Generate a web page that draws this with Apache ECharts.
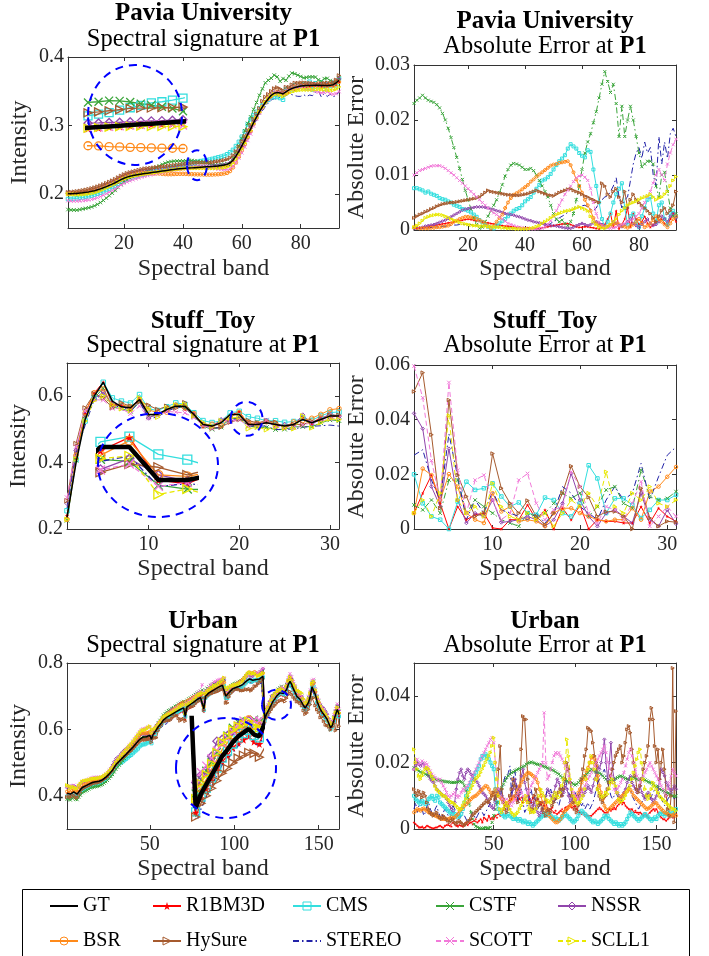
<!DOCTYPE html>
<html><head><meta charset="utf-8">
<script src="https://cdn.jsdelivr.net/npm/echarts@6/dist/echarts.min.js"></script>
<style>html,body{margin:0;padding:0;background:#fff}#c{width:709px;height:956px}</style>
</head><body><div id="c"></div>
<script>
// ---------------- DATA ----------------
const methods = ['GT','R1BM3D','CMS','CSTF','NSSR','BSR','HySure','STEREO','SCOTT','SCLL1'];

// Pavia University (values x1e-4; errors are signed deviations from GT, x1e-4)
const pavia_GT = [2000,2001,2003,2006,2010,2015,2021,2028,2036,2046, 2058,2072,2088,2105,2123,2142,2162,2185,2208,2228, 2244,2256,2266,2275,2283,2290,2296,2302,2308,2314, 2320,2326,2332,2338,2344,2350,2356,2361,2366,2370, 2373,2376,2379,2382,2385,2388,2391,2394,2397,2400, 2404,2408,2413,2420,2430,2450,2490,2550,2620,2700, 2780,2870,2950,3040,3120,3200,3270,3335,3390,3440, 3470,3480,3475,3460,3490,3520,3540,3555,3565,3575, 3580,3582,3584,3585,3586,3586,3585,3584,3583,3585, 3595,3620,3660];
const pavia_R1BM3D = [-3,-3,-4,-4,-5,-6,-7,-8,-9,-10, -11,-12,-13,-14,-15,-16,-17,-18,-19,-20, -19,-18,-17,-16,-15,-14,-13,-12,-11,-10, -9,-8,-7,-7,-6,-6,-5,-5,-4,-4, -4,-3,-3,-3,-3,-4,-5,-6,-7,-8, -9,-10,-11,-11,-12,-10,-8,-6,-5,-5, -6,-6,-5,-4,-3,-2,-5,-10,-20,-30, -5,-35,-2,-10,-20,-40,-5,-30,-20,-10, -15,-25,-12,-5,-10,-15,-18,-20,-12,-8, -20,-30,-15];
const pavia_CMS = [-76,-76,-74,-72,-68,-70,-66,-64,-62,-58, -56,-55,-52,-50,-46,-44,-42,-38,-37,-35, -32,-28,-24,-18,-14,-10,-6,-4,3,8, 12,16,20,25,30,35,38,40,45,52, 56,60,68,75,82,90,92,96,102,110, 118,125,130,136,148,156,152,148,140,135, 132,145,142,110,80,50,20,5,-15,-30, -50,-65,-75,-85,40,10,-25,30,-15,5, 25,-40,55,-60,30,-15,45,-50,20,-10, 30,-35,25];
const pavia_CSTF = [-230,-236,-240,-245,-240,-236,-234,-232,-228,-222, -212,-200,-185,-168,-150,-132,-112,-92,-72,-55, -38,-22,-10,3,5,15,25,35,45,55, 68,82,98,110,118,121,120,118,114,110, 110,112,108,100,90,80,70,60,45,30, 20,15,18,12,8,15,30,55,80,110, 140,160,175,195,215,240,265,288,270,250, 265,230,170,225,170,200,225,200,170,140, 115,120,125,125,120,80,60,100,105,70, 40,25,30];
const pavia_NSSR = [3,3,4,5,7,8,9,10,12,14, 16,18,21,24,27,30,33,36,38,39, 40,41,42,42,42,41,40,38,37,35, 34,32,30,29,28,27,25,24,22,20, 18,17,15,14,13,12,10,9,8,8, 7,6,5,4,3,3,5,8,10,12, 10,8,10,13,15,12,10,8,6,10, 15,12,8,6,10,15,20,12,8,5, 10,15,20,12,8,10,15,25,20,15, 25,30,22];
const pavia_BSR = [5,4,3,3,3,3,4,4,5,5, 6,7,8,11,15,17,20,22,24,24, 23,22,20,18,15,12,7,-3,-8,-15, -22,-28,-40,-50,-58,-64,-67,-70,-74,-78, -82,-88,-92,-97,-101,-105,-109,-113,-117,-119, -120,-122,-123,-124,-125,-118,-105,-92,-80,-68, -55,-45,-35,-22,-12,-8,-7,5,6,-8, -10,12,-10,8,-6,4,-7,10,-15,20, -12,5,-8,12,-18,25,-20,15,-10,5, -12,20,-25];
const pavia_HySure = [22,25,28,30,33,35,38,40,43,45, 47,48,49,50,50,51,52,53,54,55, 56,57,58,60,64,68,72,70,69,68, 67,66,65,64,64,63,63,63,64,65, 66,68,70,72,70,68,66,64,63,62, 65,68,70,72,74,75,72,70,68,65, 62,60,57,55,52,50,85,80,65,60, 70,75,60,50,70,40,55,65,55,50, 45,40,35,30,22,15,25,35,40,30, 35,45,70];
const pavia_STEREO = [-2,-2,-3,-3,-4,-4,-5,-5,-6,-6, -7,-7,-8,-8,-9,-9,-10,-10,-10,-10, -10,-9,-9,-8,-8,-7,-7,-6,-6,-5, -5,-5,-4,-4,-4,-3,-3,-3,-2,-2, -3,-2,-2,-2,-2,-3,-5,-8,-12,-15, -18,-22,-25,-28,-32,-35,-38,-40,-42,-44, -45,-42,-38,-35,-40,-50,-55,-60,-62,-70, -80,-95,-60,-40,-55,-60,-90,-120,-140,-150, -130,-160,-140,-150,-100,-80,-170,-120,-160,-130, -175,-185,-170];
const pavia_SCOTT = [-100,-104,-108,-110,-112,-114,-116,-117,-117,-117, -115,-112,-108,-104,-100,-95,-90,-85,-80,-75, -70,-65,-60,-55,-50,-45,-40,-35,-31,-28, -24,-20,-16,-12,-10,-8,-6,-5,-4,-3, -2,-2,-2,-2,-3,-3,-6,-10,-17,-25, -35,-45,-55,-65,-72,-80,-88,-95,-98,-100, -96,-90,-75,-50,-30,-15,-8,-5,-4,-3, -4,-5,-8,-10,-12,-15,-18,-20,-25,-30, -40,-50,-60,-70,-85,-100,-110,-100,-90,-120, -140,-155,-165];
const pavia_SCLL1 = [-5,-8,-12,-17,-22,-24,-26,-27,-28,-28, -27,-25,-23,-20,-18,-16,-14,-12,-11,-10, -9,-8,-8,-7,-7,-7,-6,-6,-5,-5, -5,-4,-4,-3,-3,-3,-2,-2,-2,-2, -2,-3,-4,-6,-8,-12,-15,-18,-22,-25, -28,-30,-32,-34,-35,-36,-38,-40,-42,-40, -38,-35,-25,-15,-10,-5,-4,-3,-6,-10, -15,-20,-28,-35,-40,-45,-48,-50,-52,-55, -58,-60,-62,-65,-60,-55,-58,-60,-65,-70, -80,-90,-97];

// Stuff_Toy (x1e-4)
const stuff_GT = [2350,4000,5300,6000,6420,5850,5680,5650,5900,5450,5450,5600,5700,5700,5450,5150,5100,5200,5450,5450,5150,5150,5200,5150,5100,5150,5300,5200,5300,5400,5400];
const stuff_R1BM3D = [58,131,197,94,0,-82,34,-52,58,-4,0,-34,34,-88,34,-70,0,76,-34,88,0,-34,28,-28,22,-22,82,-22,76,-46,28];
const stuff_CMS = [200,94,-46,-34,0,100,173,143,149,167,119,82,97,58,52,115,106,58,46,94,233,185,58,112,112,88,40,70,106,106,125];
const stuff_CSTF = [-88,70,106,-58,-179,-179,-58,-106,-82,-58,-34,-22,-10,-58,-46,-58,-94,-131,-112,-131,-46,-82,-143,-155,-94,-76,-215,-119,-106,-112,-137];
const stuff_NSSR = [423,367,155,-82,-294,-106,22,-58,-46,-106,24,-28,34,-46,-34,10,-34,94,-203,-106,46,-10,58,-70,46,-22,131,-34,10,70,-19];
const stuff_BSR = [-58,221,197,106,-201,-155,58,34,-22,131,64,-82,28,-34,28,-10,58,-76,-76,58,46,34,28,34,-34,76,-34,137,155,191,227];
const stuff_HySure = [503,572,345,76,-472,-197,119,46,-58,276,149,94,-58,104,-46,16,-58,-131,-230,-155,116,46,63,64,-48,0,-149,40,-10,28,25];
const stuff_STEREO = [270,290,-179,-106,-348,-191,34,-106,-58,-137,-70,-58,-46,-34,-58,-22,-58,-155,-131,-82,-58,-34,-106,-155,-106,-131,-240,-106,-191,-270,-300];
const stuff_SCOTT = [596,480,250,-106,-536,-215,-58,-179,-197,-106,-34,-58,-179,-203,-94,-34,-70,82,-209,-155,-58,-22,82,-70,-34,-94,-173,10,-46,-82,-46];
const stuff_SCLL1 = [-58,106,-46,-131,-415,-106,-58,-82,46,167,-82,46,34,58,-34,58,-10,58,-106,-82,-131,-82,-209,-82,-58,-131,106,-155,-94,-82,-106];

// Urban (GT x1e-3, signed errors x1e-4)
const urban_GT = [408,410,405,410,412,406,405,412,418,425, 428,430,432,435,438,440,441,442,443,444, 446,448,452,456,460,466,472,478,486,494, 500,505,510,515,520,525,530,536,540,546, 552,558,564,570,575,577,576,578,580,582, 570,585,592,600,608,614,620,628,632,636, 640,642,646,648,652,654,658,660,663,665, 640,668,672,675,678,682,686,690,693,696, 700,662,700,706,710,714,716,720,722,725, 728,730,733,736,700,698,712,718,722,725, 726,728,730,732,735,740,745,750,752,746, 748,752,750,748,752,756,760,630,645,655, 665,675,685,692,700,706,710,714,708,706, 720,735,745,735,722,712,700,695,690,685, 672,664,670,682,700,728,732,705,685,672, 660,652,645,638,630,618,605,612,628,645, 660,645];
const urban_R1BM3D = [-20,-15,-10,-5,-5,-8,-3,-5,-10,-8, -5,-3,-2,-5,-5,-8,-10,-6,-4,-10, -12,-15,-10,-8,-20,-15,-10,-8,-12,-10, -8,-15,-20,-12,-18,-20,-15,-25,-30,-20, -25,-30,-20,-35,-30,-25,-40,-30,-35,-30, -40,-35,-45,-40,-50,-60,-70,-80,-75,-85, -90,-100,-95,-85,-100,-90,-95,-80,-90,-85, -100,-90,-80,-95,-100,-85,-90,-80,-75,-80, -70,-85,-60,-55,-60,-65,-50,-55,-45,-50, -55,-60,-50,-65,-60,-70,-75,-65,-60,-70, -60,-55,-50,-45,-50,-40,-45,-40,-35,-40, -45,-50,-55,-60,-65,-60,-55,-50,-45,-50, -60,-55,-60,-65,-60,-70,-75,-80,-75,-80, -70,-65,-60,-55,-60,-50,-55,-50,-45,-50, -45,-40,-45,-40,-35,-50,-55,-60,-55,-60, -50,-40,-35,-30,-30,-25,-30,-35,-40,-35, -40,-45];
const urban_CMS = [-100,-90,-85,-80,-75,-85,-80,-75,-80,-90, -95,-100,-90,-85,-100,-95,-80,-75,-70,-65, -60,-55,-50,-45,-50,-45,-40,-35,-40,-45, -60,-80,-100,-120,-130,-140,-150,-160,-170,-180, -190,-210,-220,-215,-225,-220,-210,-200,-190,-180, -120,-80,-60,-50,-45,-40,-35,-40,-45,-40, -35,-30,-35,-30,-25,-30,-25,-20,-25,-20, -15,-20,-15,-10,-15,-20,-25,-30,-35,-40, -45,-40,-50,-45,-40,-35,-30,-35,-30,-25, -30,-35,-40,-45,-40,-35,-30,-25,-20,-25, -30,-40,-50,-55,-50,-45,-40,-35,-30,-25, -20,-25,-20,-15,-20,-25,-30,-40,-35,-40, -30,-25,-20,-15,-20,-15,-10,-15,-10,-15, -20,-30,-40,-50,-45,-40,-35,-30,-25,-30, -35,-40,-45,-40,-35,-30,-25,-30,-35,-30, -40,-45,-50,-45,-40,-45,-50,-45,-40,-50, -55,-60];
const urban_CSTF = [-185,-180,-178,-175,-172,-170,-168,-165,-163,-160, -158,-155,-153,-150,-148,-147,-146,-145,-144,-143, -142,-142,-141,-140,-140,-140,-141,-142,-143,-142, -140,-130,-115,-95,-75,-50,-30,-15,-8,-5, -3,-2,-2,-3,-4,-3,-2,5,20,40, 60,80,100,115,125,135,145,155,160,165, 170,172,175,178,180,182,185,188,190,195, 198,200,202,200,198,196,195,194,192,190, 188,186,184,182,180,178,176,172,168,165, 160,155,150,148,145,142,140,138,135,132, 135,140,145,150,155,160,165,170,175,180, 178,175,172,170,168,165,160,155,150,145, 142,145,148,150,152,155,158,160,158,155, 152,150,148,150,152,155,153,150,148,150, 152,150,148,145,142,140,138,135,130,128, 125,120,118,115,112,110,108,105,102,100, 98,100];
const urban_NSSR = [180,190,200,195,190,200,195,185,180,160, 150,145,140,130,120,115,110,105,100,100, 90,80,70,60,55,80,120,150,170,180, 160,150,170,180,175,165,160,150,145,140, 130,120,110,105,100,90,80,70,65,60, 80,100,120,110,100,90,80,70,60,80, 100,120,150,130,100,120,160,180,140,120, 100,90,80,70,80,60,50,40,50,60, 80,100,120,110,100,90,110,130,150,140, 120,100,110,130,120,100,80,90,100,80, 90,100,110,120,100,110,120,130,120,110, 130,150,170,190,180,200,230,270,200,150, 200,260,180,150,120,110,100,90,100,110, 120,140,150,160,140,130,120,110,120,130, 110,100,90,100,110,100,90,80,90,100, 120,150,180,170,160,140,130,120,110,120, 130,120];
const urban_BSR = [50,55,60,58,55,60,62,58,55,50, 48,45,42,40,38,35,33,30,30,30, 28,30,32,35,33,35,40,45,55,60, 65,70,75,80,85,90,95,98,100,105, 110,115,120,125,130,128,120,110,100,110, 120,110,100,95,90,85,80,78,80,85, 90,95,100,110,120,130,140,150,160,165, 170,168,165,160,155,150,140,120,100,80, 70,60,50,40,35,30,25,20,20,25, 30,40,50,55,60,65,70,75,80,90, 100,110,120,140,150,160,175,185,200,215, 220,210,190,160,130,110,90,70,60,55, 60,65,70,75,80,85,90,95,100,105, 110,115,120,118,110,100,95,90,85,80, 75,70,65,60,62,65,70,75,80,78, 70,65,60,55,50,48,45,42,40,42, 45,40];
const urban_HySure = [-120,-110,-100,-115,-105,-95,-110,-100,-80,-60, -50,-45,-40,-45,-50,-40,-35,-30,-40,-35, -30,-25,-20,-25,-30,-20,-15,-20,-25,-20, -15,-10,-15,-20,-25,-30,-40,-45,-50,-55, -60,-65,-70,-75,-80,-85,-80,-90,-100,-110, -90,-100,-180,-250,-120,-80,-60,-50,-70,-100, -120,-150,-130,-100,-80,-120,-240,-340,-330,-330, -150,-80,-50,-60,-100,-120,-90,-70,-80,-60, -50,-40,-55,-60,-50,-70,-80,-90,-100,-110, -120,-100,-120,-150,-200,-180,-140,-100,-80,-60, -50,-70,-100,-150,-180,-220,-240,-305,-300,-295, -260,-220,-200,-120,-100,-90,-80,-95,-100,-120, -140,-160,-180,-200,-220,-230,-240,-250,-200,-220, -260,-300,-310,-290,-240,-200,-160,-120,-110,-130, -150,-180,-200,-220,-250,-330,-365,-330,-250,-200, -240,-150,-200,-240,-180,-100,-60,-40,-100,-485, -20,-355];
const urban_STEREO = [-60,-80,-50,-70,-90,-60,-40,-50,-70,-80, -60,-50,-40,-60,-70,-50,-40,-30,-50,-60, -50,-40,-30,-50,-70,-60,-50,-40,-30,-40, -50,-40,-30,-20,-30,-40,-50,-40,-30,-40, -50,-60,-50,-40,-50,-60,-70,-80,-70,-80, -100,-120,-110,-90,-120,-140,-160,-150,-170,-190, -100,-150,-180,-120,-80,-100,-120,-80,-50,-60, -80,-100,-120,-90,-100,-80,-60,-70,-80,-60, -80,-100,-120,-110,-120,-100,-80,-90,-80,-70, -90,-120,-140,-150,-130,-110,-100,-90,-100,-110, -100,-90,-80,-70,-80,-60,-70,-80,-60,-70, -80,-100,-120,-140,-150,-160,-170,-180,-160,-140, -120,-100,-90,-100,-110,-100,-90,-80,-90,-100, -110,-120,-130,-120,-100,-90,-80,-70,-60,-70, -80,-90,-100,-110,-100,-90,-100,-110,-120,-130, -120,-100,-90,-80,-70,-80,-90,-100,-110,-100, -90,-100];
const urban_SCOTT = [180,200,210,195,200,205,190,200,195,185, 175,165,160,155,150,145,150,140,130,120, 110,100,95,100,105,110,100,95,100,110, 120,115,125,130,140,150,160,170,180,190, 200,210,220,230,240,250,260,270,275,260, 200,150,120,100,90,80,85,90,80,75, 70,80,90,100,110,120,110,100,90,100, 110,120,130,140,150,160,170,180,190,200, 350,200,150,160,180,200,220,230,225,230, 220,210,200,190,180,160,140,120,110,100, 95,90,100,110,120,130,140,150,160,170, 180,190,200,210,220,230,240,250,230,200, 180,160,140,120,110,120,130,140,150,170, 190,210,230,240,220,200,180,160,150,140, 150,160,170,180,190,200,190,180,170,160, 150,140,130,120,110,100,120,140,160,180, 170,160];
const urban_SCLL1 = [240,200,180,160,150,160,170,180,185,180, 170,160,150,130,120,115,110,105,100,100, 95,90,85,80,80,75,70,65,60,60, 70,80,90,100,110,120,130,140,150,155, 160,170,180,190,200,210,220,230,250,275, 200,150,100,60,50,60,70,80,70,60, 50,45,40,45,50,60,70,80,90,100, 80,60,50,55,50,60,80,100,120,110, 100,90,80,85,80,90,100,110,100,95, 110,130,150,200,270,220,150,120,100,90, 80,75,80,90,100,120,150,180,200,220, 200,180,150,120,110,100,95,100,110,105, 120,140,150,140,130,110,90,80,85,90, 100,110,120,130,150,170,190,210,230,240, 200,150,120,100,90,100,120,140,130,120, 110,100,95,90,85,80,75,70,65,60, 60,55];

// Tick labels
const pavia_xticks = [20,40,60,80], pavia_yticks = [0.2,0.3,0.4], pavia_eticks = [0,0.01,0.02,0.03];
const stuff_xticks = [10,20,30], stuff_yticks = [0.2,0.4,0.6], stuff_eticks = [0,0.02,0.04,0.06];
const urban_xticks = [50,100,150], urban_yticks = [0.4,0.6,0.8], urban_eticks = [0,0.02,0.04];

// ---------------- BUILD ----------------
const pavia = {gt:pavia_GT, gs:1e-4, es:1e-4, err:{R1BM3D:pavia_R1BM3D,CMS:pavia_CMS,CSTF:pavia_CSTF,NSSR:pavia_NSSR,BSR:pavia_BSR,HySure:pavia_HySure,STEREO:pavia_STEREO,SCOTT:pavia_SCOTT,SCLL1:pavia_SCLL1}};
const stuff = {gt:stuff_GT, gs:1e-4, es:1e-4, err:{R1BM3D:stuff_R1BM3D,CMS:stuff_CMS,CSTF:stuff_CSTF,NSSR:stuff_NSSR,BSR:stuff_BSR,HySure:stuff_HySure,STEREO:stuff_STEREO,SCOTT:stuff_SCOTT,SCLL1:stuff_SCLL1}};
const urban = {gt:urban_GT, gs:1e-3, es:1e-4, err:{R1BM3D:urban_R1BM3D,CMS:urban_CMS,CSTF:urban_CSTF,NSSR:urban_NSSR,BSR:urban_BSR,HySure:urban_HySure,STEREO:urban_STEREO,SCOTT:urban_SCOTT,SCLL1:urban_SCLL1}};

const F = 'Liberation Serif';
const AX = '#333333';
const STAR = 'path://M50,2L61,36L97,36L68,57L79,92L50,71L21,92L32,57L3,36L39,36Z';
const CROSS = 'path://M0,0L10,10M10,0L0,10';
const DASHDOT = [6,3,1.5,3];
const STY = {
  GT:{color:'#000000', symbol:'none', type:'solid'},
  R1BM3D:{color:'#ff0000', symbol:STAR, type:'solid', filled:true},
  CMS:{color:'#33dede', symbol:'rect', type:'solid'},
  CSTF:{color:'#3aa53a', symbol:CROSS, type:'solid', etype:DASHDOT},
  NSSR:{color:'#9146ac', symbol:'diamond', type:'solid'},
  BSR:{color:'#ff8a1a', symbol:'circle', type:'solid'},
  HySure:{color:'#a65a2e', symbol:'triangle', rot:-90, type:'solid'},
  STEREO:{color:'#2222a8', symbol:'none', type:DASHDOT},
  SCOTT:{color:'#f27ad9', symbol:CROSS, type:[5,3]},
  SCLL1:{color:'#e8e800', symbol:'triangle', rot:-90, type:[5,3]}
};

const PLOTS = [
  {ds:pavia, kind:'spec', grid:{left:68,top:57,width:271,height:171}, x:[1,93], y:[0.15,0.4], xt:pavia_xticks, yt:pavia_yticks, yname:'Intensity', ngY:36, ngX:29, size:3.5},
  {ds:pavia, kind:'err', grid:{left:414,top:65,width:262,height:165}, x:[1,93], y:[0,0.03], xt:pavia_xticks, yt:pavia_eticks, yname:'Absolute Error', ngY:45, ngX:27, size:3},
  {ds:stuff, kind:'spec', grid:{left:67,top:363,width:272,height:166}, x:[1,31], y:[0.2,0.7], xt:stuff_xticks, yt:stuff_yticks, yname:'Intensity', ngY:36, ngX:28, size:4.5},
  {ds:stuff, kind:'err', grid:{left:414,top:365,width:262,height:164}, x:[1,31], y:[0,0.06], xt:stuff_xticks, yt:stuff_eticks, yname:'Absolute Error', ngY:45, ngX:28, size:3.5},
  {ds:urban, kind:'spec', grid:{left:67,top:663,width:272,height:166}, x:[1,162], y:[0.3,0.8], xt:urban_xticks, yt:urban_yticks, yname:'Intensity', ngY:36, ngX:28, size:3},
  {ds:urban, kind:'err', grid:{left:414,top:663,width:262,height:166}, x:[1,162], y:[0,0.05], xt:urban_xticks, yt:urban_eticks, yname:'Absolute Error', ngY:45, ngX:28, size:3}
];
const INSETS = [
  {ds:pavia, grid:{left:88,top:67,width:95,height:96}, x:[40,49], y:[0.2217,0.2634], size:8, spot:{g:0, at:[44.8,0.2418], rx:10, ry:15}, circle:{cx:135,cy:115,rx:47,ry:50}},
  {ds:stuff, grid:{left:99,top:413,width:97,height:104}, x:[18.95,22.3], y:[0.4814,0.5759], size:9, spot:{g:2, at:[20.8,0.532], rx:16, ry:17}, circle:{cx:158,cy:465,rx:60,ry:52}},
  {ds:urban, grid:{left:176,top:718,width:86,height:100}, x:[114.3,130.5], y:[0.6194,0.7256], size:8, spot:{g:4, at:[125,0.674], rx:14.5, ry:15}, circle:{cx:226,cy:768,rx:50,ry:50}}
];
const TITLES = [
  {cx:203.5, y1:14, y2:40, t1:'Pavia University', t2:'Spectral signature at '},
  {cx:545, y1:22, y2:47, t1:'Pavia University', t2:'Absolute Error at '},
  {cx:203, y1:322, y2:346, t1:'Stuff_Toy', t2:'Spectral signature at '},
  {cx:545, y1:322, y2:346, t1:'Stuff_Toy', t2:'Absolute Error at '},
  {cx:203, y1:622, y2:646, t1:'Urban', t2:'Spectral signature at '},
  {cx:545, y1:622, y2:646, t1:'Urban', t2:'Absolute Error at '}
];
const LEG_COLS = [['GT','BSR',49],['R1BM3D','HySure',152],['CMS','STEREO',292],['CSTF','SCOTT',435],['NSSR','SCLL1',557]];

function specData(ds, m){
  return ds.gt.map((v,i)=>[i+1, v*ds.gs + (m==='GT'?0:ds.err[m][i]*ds.es)]);
}
function errData(ds, m){
  return ds.err[m].map((v,i)=>[i+1, Math.abs(v)*ds.es]);
}
function mkSeries(name, data, xi, yi, o){
  const s = STY[name];
  const hasSym = s.symbol !== 'none';
  return {
    type:'line', name, xAxisIndex:xi, yAxisIndex:yi, data,
    symbol: hasSym ? s.symbol : 'none', showSymbol: hasSym, symbolSize:o.size, symbolRotate:s.rot||0,
    lineStyle:{color:s.color, width:o.lw, type:(o.err && s.etype) ? s.etype : s.type},
    itemStyle: s.filled ? {color:s.color, borderWidth:0} : {color:'rgba(0,0,0,0)', borderColor:s.color, borderWidth:o.bw},
    emphasis:{disabled:true}, silent:true, clip:true, z: name==='GT' ? 5 : 3
  };
}
function baseAxisX(g, p, main){
  return {gridIndex:g, type:'value', min:p.x[0], max:p.x[1], position: main?'bottom':'top',
    axisLine:{show:true, onZero:false, lineStyle:{color:AX, width:1}},
    axisTick:{show:true, inside:true, length:4, customValues:p.xt, lineStyle:{color:AX}},
    axisLabel:{show:main, customValues:p.xt, fontFamily:F, fontSize:20, color:'#262626', margin:6},
    splitLine:{show:false},
    name: main ? 'Spectral band' : '', nameLocation:'middle', nameGap:p.ngX,
    nameTextStyle:{fontFamily:F, fontSize:24, color:'#262626'}};
}
function baseAxisY(g, p, main){
  return {gridIndex:g, type:'value', min:p.y[0], max:p.y[1], position: main?'left':'right',
    axisLine:{show:true, onZero:false, lineStyle:{color:AX, width:1}},
    axisTick:{show:true, inside:true, length:4, customValues:p.yt, lineStyle:{color:AX}},
    axisLabel:{show:main, customValues:p.yt, fontFamily:F, fontSize:20, color:'#262626', margin:4},
    splitLine:{show:false},
    name: main ? p.yname : '', nameLocation:'middle', nameGap:p.ngY,
    nameTextStyle:{fontFamily:F, fontSize:24, color:'#262626'}};
}

const grids=[], xAxes=[], yAxes=[], series=[];
PLOTS.forEach((p,g)=>{
  grids.push(Object.assign({outerBoundsMode:'none'}, p.grid));
  xAxes.push(baseAxisX(g,p,true)); xAxes.push(baseAxisX(g,p,false));
  yAxes.push(baseAxisY(g,p,true)); yAxes.push(baseAxisY(g,p,false));
  const xi = 2*g, yi = 2*g;
  const order = methods.slice(1).concat(p.kind==='spec' ? ['GT'] : []);
  order.forEach(m=>{
    const data = p.kind==='spec' ? specData(p.ds, m) : errData(p.ds, m);
    series.push(mkSeries(m, data, xi, yi, {size:p.size, lw: m==='GT'?1.5:1, bw:1, err:p.kind==='err'}));
  });
});
INSETS.forEach((ins,k)=>{
  const g = PLOTS.length + k;
  grids.push(Object.assign({outerBoundsMode:'none'}, ins.grid));
  xAxes.push({gridIndex:g, type:'value', min:ins.x[0], max:ins.x[1], show:false});
  yAxes.push({gridIndex:g, type:'value', min:ins.y[0], max:ins.y[1], show:false});
  const ai = xAxes.length-1;
  methods.slice(1).concat(['GT']).forEach(m=>{
    series.push(mkSeries(m, specData(ins.ds, m), ai, ai, {size:ins.size, lw: m==='GT'?4.5:1.3, bw:1.3, err:false}));
  });
});

const legends = LEG_COLS.map(c=>({
  data:[c[0],c[1]].map(n => (n==='GT'||n==='STEREO') ? {name:n, itemStyle:{opacity:0}} : n),
  left:c[2], top:896, orient:'vertical', padding:0, itemGap:15, itemWidth:28, itemHeight:10,
  selectedMode:false, itemStyle:{borderWidth:1},
  textStyle:{fontFamily:F, fontSize:20, color:'#000', lineHeight:20}
}));

const chart = echarts.init(document.getElementById('c'), null, {renderer:'canvas', width:709, height:956});
chart.setOption({
  animation:false, backgroundColor:'#fff',
  grid:grids, xAxis:xAxes, yAxis:yAxes, series, legend:legends
});

// annotations: titles, zoom circles, legend frame
const gfx = [];
const DASH = {fill:'none', stroke:'#0000ff', lineWidth:2, lineDash:[8,6]};
TITLES.forEach(t=>{
  gfx.push({type:'text', x:t.cx, y:t.y1, z:100, silent:true,
    style:{text:t.t1, align:'center', verticalAlign:'middle', fontFamily:F, fontSize:25, fontWeight:'bold', fill:'#000'}});
  gfx.push({type:'text', x:t.cx, y:t.y2, z:100, silent:true,
    style:{text:'{n|'+t.t2+'}{b|P1}', align:'center', verticalAlign:'middle', fontFamily:F, fontSize:24.5, fill:'#000',
      rich:{n:{fontFamily:F, fontSize:24.5, fill:'#000'}, b:{fontFamily:F, fontSize:24.5, fontWeight:'bold', fill:'#000'}}}});
});
INSETS.forEach(ins=>{
  const p = chart.convertToPixel({gridIndex:ins.spot.g}, ins.spot.at);
  gfx.push({type:'ellipse', z:100, silent:true, shape:{cx:p[0], cy:p[1], rx:ins.spot.rx, ry:ins.spot.ry}, style:Object.assign({}, DASH)});
  gfx.push({type:'ellipse', z:100, silent:true, shape:{cx:ins.circle.cx, cy:ins.circle.cy, rx:ins.circle.rx, ry:ins.circle.ry}, style:Object.assign({}, DASH)});
});
gfx.push({type:'rect', z:100, silent:true, shape:{x:22.5, y:889.5, width:667, height:90}, style:{fill:'none', stroke:'#000', lineWidth:1}});
chart.setOption({graphic:gfx});
</script>
</body></html>
